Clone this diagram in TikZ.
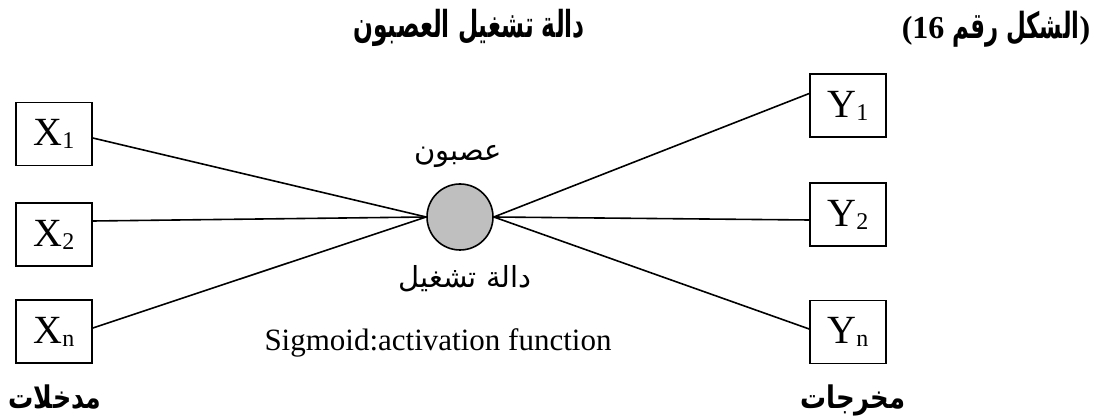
\documentclass[tikz,border=0pt]{standalone}
\usepackage{fontspec}
\setmainfont{Liberation Serif}
\newfontfamily\arabicfont[Script=Arabic]{DejaVu Sans}
\TeXXeTstate=1
\newcommand\sbs[1]{\raisebox{-3pt}{\fontsize{24}{24}\selectfont #1}}
\begin{document}
\begin{tikzpicture}[x=1pt,y=-1pt,
  box/.style={draw, line width=1.6pt, minimum width=76pt, minimum height=63pt, inner sep=0pt, font=\fontsize{40}{44}\selectfont},
  neuron/.style={circle, draw, fill=black!25, minimum size=66pt, line width=1.6pt, inner sep=0pt},
  conn/.style={line width=1.6pt},
  arlabel/.style={font=\arabicfont\fontsize{29}{32}\selectfont, inner sep=0pt},
  artitle/.style={font=\arabicfont\bfseries\fontsize{24}{28}\selectfont, inner sep=0pt},
  entext/.style={font=\fontsize{31}{36}\selectfont, inner sep=0pt}]
\useasboundingbox (0,0) rectangle (1096,419);
\node[box] (X1) at (54,134) {X\sbs{1}};
\node[box] (X2) at (54,234.5) {X\sbs{2}};
\node[box] (Xn) at (54,331.5) {X\sbs{n}};
\node[box] (Y1) at (848,105.5) {Y\sbs{1}};
\node[box] (Y2) at (848,214.5) {Y\sbs{2}};
\node[box] (Yn) at (848,332) {Y\sbs{n}};
\node[neuron] (N) at (460,217) {};
\draw[conn] ([yshift=-4pt]X1.east) -- (N.west);
\draw[conn] ([yshift=13.5pt]X2.east) -- (N.west);
\draw[conn] ([yshift=3.5pt]Xn.east) -- (N.west);
\draw[conn] (N.east) -- ([yshift=12pt]Y1.west);
\draw[conn] (N.east) -- ([yshift=-5.5pt]Y2.west);
\draw[conn] (N.east) -- ([yshift=3pt]Yn.west);
\node[arlabel] (lneuron) at (458,156) {\beginR عصبون\endR};
\node[arlabel] (lfunc) at (465,279) {\beginR دالة تشغيل\endR};
\node[entext, anchor=base] (lsig) at (438,351) {Sigmoid:activation function};
\node[artitle] (title) at (469,28) {\scalebox{0.97}[1.55]{\beginR دالة تشغيل العصبون\endR}};
\node[inner sep=0pt] (fig) at (996,29) {\fontsize{32}{34}\selectfont\bfseries (16 {\arabicfont\fontsize{24}{28}\selectfont\scalebox{0.95}[1.5]{\beginR الشكل رقم\endR}})};
\node[artitle] (lin) at (55,397) {\scalebox{1.05}[1.3]{\beginR مدخلات\endR}};
\node[artitle] (lout) at (853,400) {\scalebox{1.08}[1.3]{\beginR مخرجات\endR}};
\end{tikzpicture}
\end{document}
